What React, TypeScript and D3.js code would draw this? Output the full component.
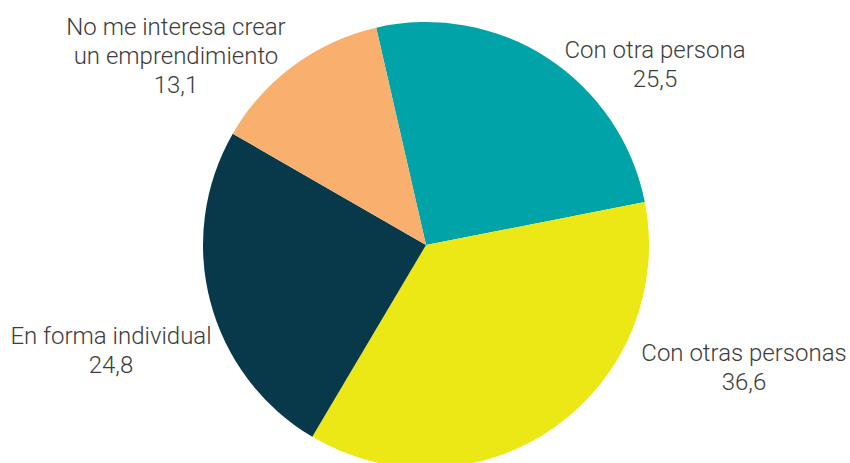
import React from 'react';
import * as d3 from 'd3';

const categories = ['Con otra persona', 'Con otras personas', 'En forma individual', 'No me interesa crear un emprendimiento'];
const values = [25.5, 36.6, 24.8, 13.1];
const colors = ['#00A3A7', '#EBE815', '#07394B', '#F9AF6D'];

// label lines as displayed, one entry per slice
const labelLines = [
  ['Con otra persona'],
  ['Con otras personas'],
  ['En forma individual'],
  ['No me interesa crear', 'un emprendimiento'],
];

const width = 850;
const height = 463;
const cx = 426;
const cy = 245;
const radius = 223;
const startDeg = -12.9;

// where each label block is centred (x) and where its first baseline sits (y)
const labelAnchors: [number, number][] = [
  [655, 58],
  [744, 361],
  [111, 344],
  [176, 35],
];

const fmt = (v: number) => v.toFixed(1).replace('.', ',');

export default function App() {
  const start = (startDeg * Math.PI) / 180;
  const pie = d3
    .pie<number>()
    .sort(null)
    .startAngle(start)
    .endAngle(start + 2 * Math.PI)
    .value((d) => d);
  const arcs = pie(values);
  const arc = d3.arc<d3.PieArcDatum<number>>().innerRadius(0).outerRadius(radius);

  return (
    <svg
      width={width}
      height={height}
      style={{ position: 'absolute', left: 0, top: 0 }}
      fontFamily="Roboto"
    >
      <g transform={`translate(${cx},${cy})`}>
        {arcs.map((a, i) => (
          <path key={categories[i]} d={arc(a) || ''} fill={colors[i]} />
        ))}
      </g>
      {labelLines.map((lines, i) => {
        const [x, y] = labelAnchors[i];
        return (
          <text
            key={categories[i]}
            x={x}
            y={y}
            textAnchor="middle"
            fontSize={24}
            fontWeight={300}
            fill="#3c3c3c"
          >
            {[...lines, fmt(values[i])].map((t, j) => (
              <tspan key={j} x={x} dy={j === 0 ? 0 : 29}>
                {t}
              </tspan>
            ))}
          </text>
        );
      })}
    </svg>
  );
}
